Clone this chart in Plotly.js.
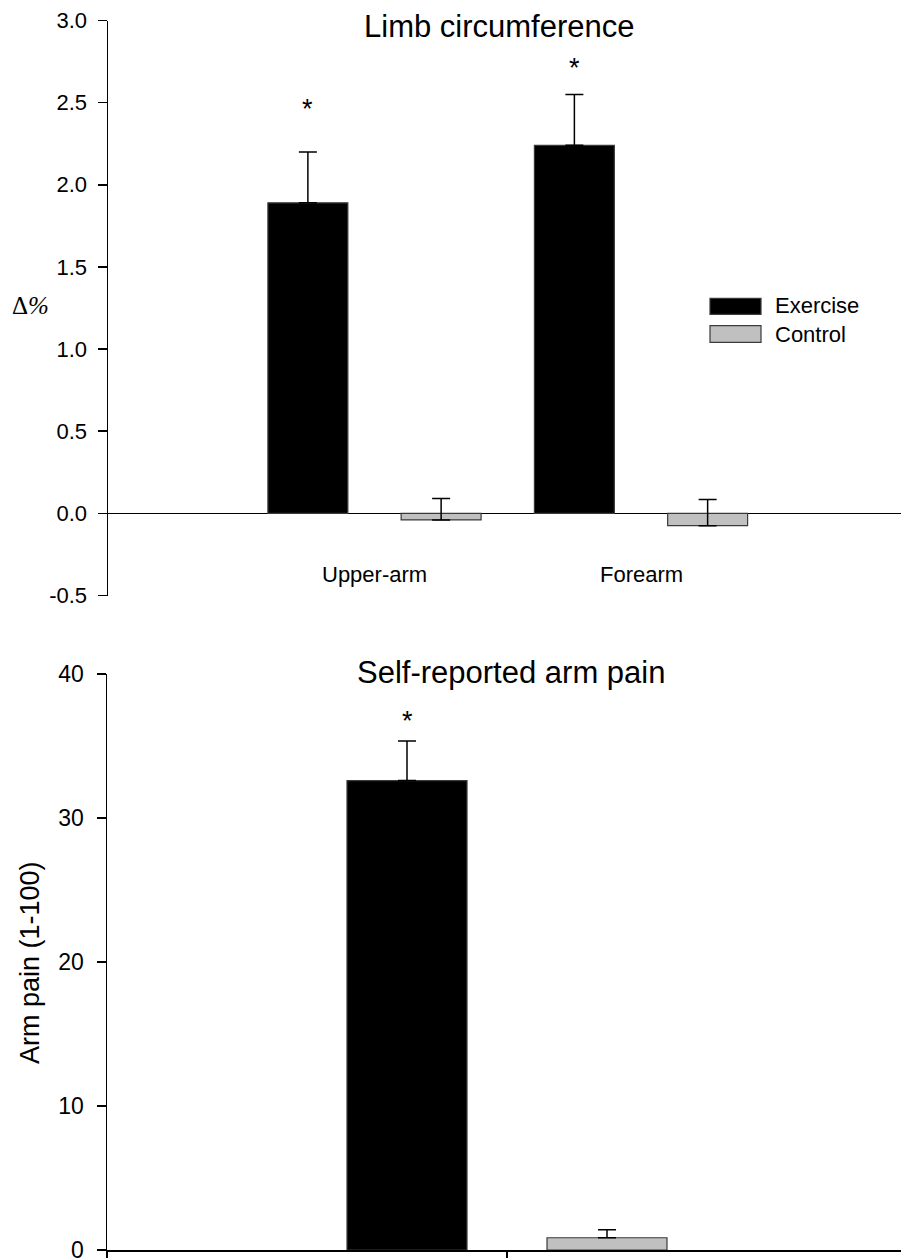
<!DOCTYPE html>
<html>
<head>
<meta charset="utf-8">
<script src="https://cdn.plot.ly/plotly-3.0.1.min.js"></script>
<style>html,body{margin:0;padding:0;background:#fff;}#chart{width:901px;height:1258px;}</style>
</head>
<body>
<div id="chart"></div>
<script>
// ---- Data ----
const limbCategories = ['Upper-arm', 'Forearm'];
const limbExercise = [1.89, 2.24];
const limbExerciseErr = [0.31, 0.31];
const limbControl = [-0.04, -0.075];
const limbControlErr = [0.13, 0.16];
const limbStarY = [2.49, 2.74];

const painCategories = ['Arm pain'];
const painExercise = [32.6];
const painExerciseErr = [2.75];
const painControl = [0.85];
const painControlErr = [0.55];
const painStarY = [37.1];

const seriesNames = ['Exercise', 'Control'];
const limbTicks = [-0.5, 0.0, 0.5, 1.0, 1.5, 2.0, 2.5, 3.0];
const limbTickText = ['-0.5', '0.0', '0.5', '1.0', '1.5', '2.0', '2.5', '3.0'];
const painTicks = [0, 10, 20, 30, 40];
const painTickText = ['0', '10', '20', '30', '40'];

// ---- Styling ----
const FONT = 'Liberation Sans, Arial, Helvetica, sans-serif';
const exColor = '#000000';
const ctColor = '#c0c0c0';
const edge = '#3a3a3a';
const W = 901, H = 1258;
const px = x => x / W;
const py = y => 1 - y / H;

function barTrace(cats, vals, errs, name, color, xa, ya) {
  return {
    type: 'bar', x: cats, y: vals, name: name,
    xaxis: xa, yaxis: ya, showlegend: false,
    marker: {color: color, line: {color: edge, width: 1.2}},
    error_y: {type: 'data', symmetric: false, array: errs, arrayminus: errs.map(() => 0),
              color: '#000', thickness: 1.5, width: 9},
    hoverinfo: 'skip'
  };
}

const data = [
  barTrace(limbCategories, limbExercise, limbExerciseErr, seriesNames[0], exColor, 'x', 'y'),
  barTrace(limbCategories, limbControl, limbControlErr, seriesNames[1], ctColor, 'x', 'y'),
  barTrace(painCategories, painExercise, painExerciseErr, seriesNames[0], exColor, 'x2', 'y2'),
  barTrace(painCategories, painControl, painControlErr, seriesNames[1], ctColor, 'x2', 'y2')
];

const annotations = [];
// titles
annotations.push({xref: 'paper', yref: 'paper', x: px(499.5), y: py(27), xanchor: 'center', yanchor: 'middle',
  text: 'Limb circumference', showarrow: false, font: {family: FONT, size: 31, color: '#000'}});
annotations.push({xref: 'paper', yref: 'paper', x: px(510.5), y: py(672), xanchor: 'center', yanchor: 'middle',
  text: 'Self-reported arm pain', showarrow: false, font: {family: FONT, size: 31, color: '#000'}});
// axis titles
annotations.push({xref: 'paper', yref: 'paper', x: px(30), y: py(306), xanchor: 'center', yanchor: 'middle',
  text: 'Δ<i>%</i>', showarrow: false, font: {family: 'Liberation Serif, Times New Roman, serif', size: 25, color: '#000'}});
annotations.push({xref: 'paper', yref: 'paper', x: px(30), y: py(963), xanchor: 'center', yanchor: 'middle',
  textangle: -90, text: 'Arm pain (1-100)', showarrow: false, font: {family: FONT, size: 27, color: '#000'}});
// category labels (top chart)
limbCategories.forEach((c, i) => {
  annotations.push({xref: 'x', yref: 'y', x: i, y: -0.37, xanchor: 'center', yanchor: 'middle',
    text: c, showarrow: false, font: {family: FONT, size: 22, color: '#000'}});
});
// significance stars on exercise bars
limbCategories.forEach((c, i) => {
  annotations.push({xref: 'x', yref: 'y', x: i - 0.25, y: limbStarY[i], xanchor: 'center', yanchor: 'middle',
    text: '*', showarrow: false, font: {family: FONT, size: 27, color: '#000'}, yshift: -5});
});
painCategories.forEach((c, i) => {
  annotations.push({xref: 'x2', yref: 'y2', x: i - 0.25, y: painStarY[i], xanchor: 'center', yanchor: 'middle',
    text: '*', showarrow: false, font: {family: FONT, size: 27, color: '#000'}, yshift: -5});
});
// legend text
annotations.push({xref: 'paper', yref: 'paper', x: px(773), y: py(306), xanchor: 'left', yanchor: 'middle',
  text: seriesNames[0], showarrow: false, font: {family: FONT, size: 22, color: '#000'}});
annotations.push({xref: 'paper', yref: 'paper', x: px(773), y: py(334), xanchor: 'left', yanchor: 'middle',
  text: seriesNames[1], showarrow: false, font: {family: FONT, size: 22, color: '#000'}});

const shapes = [
  {type: 'rect', xref: 'paper', yref: 'paper', x0: px(710), x1: px(761), y0: py(314.3), y1: py(298.3),
   fillcolor: exColor, line: {color: edge, width: 1.2}},
  {type: 'rect', xref: 'paper', yref: 'paper', x0: px(710), x1: px(761), y0: py(342.3), y1: py(325.7),
   fillcolor: ctColor, line: {color: edge, width: 1.2}}
];

const topXRangeMax = (W - 108) / 266.5 - 1;
const botXRangeMax = (W - 107) / 400 - 1;

const layout = {
  width: W, height: H,
  margin: {l: 0, r: 0, t: 0, b: 0},
  paper_bgcolor: '#fff', plot_bgcolor: '#fff',
  font: {family: FONT, color: '#000'},
  barmode: 'group', bargap: 0, bargroupgap: 0.4,
  showlegend: false,
  xaxis: {domain: [px(108), 1], anchor: 'y', type: 'category', range: [-1, topXRangeMax],
          showline: false, ticks: '', showticklabels: false, showgrid: false, zeroline: false, fixedrange: true},
  yaxis: {domain: [py(595.5), py(20.5)], anchor: 'x', range: [-0.5, 3.0],
          tickmode: 'array', tickvals: limbTicks, ticktext: limbTickText,
          showline: true, linecolor: '#000', linewidth: 1.5,
          ticks: 'outside', ticklen: 9, tickwidth: 1.5, tickcolor: '#000', ticklabelstandoff: 6,
          ticklabeloverflow: 'allow',
          tickfont: {family: FONT, size: 22, color: '#000'},
          showgrid: false, zeroline: true, zerolinecolor: '#000', zerolinewidth: 1.5, fixedrange: true},
  xaxis2: {domain: [px(107), 1], anchor: 'y2', type: 'category', range: [-1, botXRangeMax],
           showline: true, linecolor: '#000', linewidth: 1.5,
           ticks: 'outside', ticklen: 8, tickwidth: 1.5, tickcolor: '#000',
           tickmode: 'array', tickvals: [-1, 0], showticklabels: false,
           showgrid: false, zeroline: false, fixedrange: true},
  yaxis2: {domain: [py(1250), py(674)], anchor: 'x2', range: [0, 40],
           tickmode: 'array', tickvals: painTicks, ticktext: painTickText,
           showline: true, linecolor: '#000', linewidth: 1.5,
           ticks: 'outside', ticklen: 9, tickwidth: 1.5, tickcolor: '#000', ticklabelstandoff: 8,
           ticklabeloverflow: 'allow',
           tickfont: {family: FONT, size: 23, color: '#000'},
           showgrid: false, zeroline: false, fixedrange: true},
  annotations: annotations,
  shapes: shapes
};

Plotly.newPlot('chart', data, layout, {staticPlot: true, displayModeBar: false});
</script>
</body>
</html>
